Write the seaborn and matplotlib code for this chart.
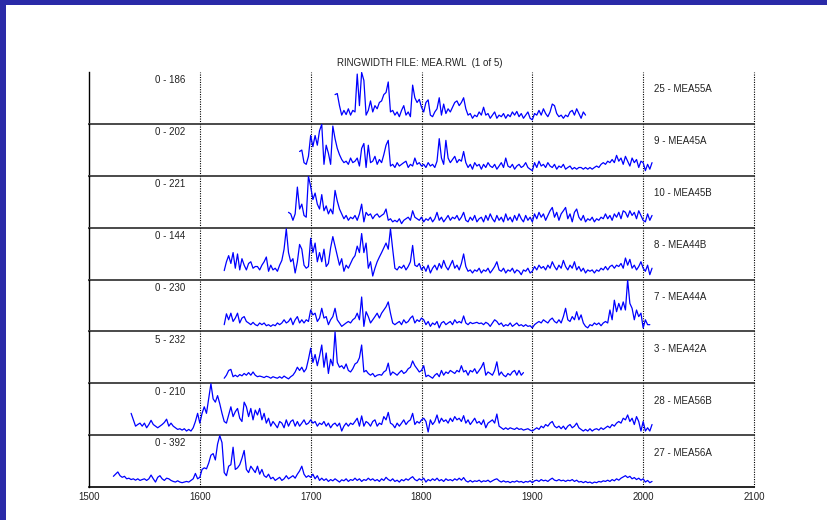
import matplotlib
matplotlib.use("Agg")
import matplotlib.pyplot as plt
from matplotlib.patches import Rectangle
import seaborn as sns
import pandas as pd

sns.set_style("white")
plt.rcParams['font.family'] = ['Liberation Sans', 'DejaVu Sans']

title = "RINGWIDTH FILE: MEA.RWL  (1 of 5)"
series_names = ["25 - MEA55A", "9 - MEA45A", "10 - MEA45B", "8 - MEA44B",
                "7 - MEA44A", "3 - MEA42A", "28 - MEA56B", "27 - MEA56A"]
range_labels = ["0 - 186", "0 - 202", "0 - 221", "0 - 144",
                "0 - 230", "5 - 232", "0 - 210", "0 - 392"]
y_lo = [0, 0, 0, 0, 0, 5, 0, 0]
y_hi = [186, 202, 221, 144, 230, 232, 210, 392]
start_years = [1722, 1690, 1680, 1622, 1622, 1622, 1538, 1522]
year_step = 2
x_ticks = [1500, 1600, 1700, 1800, 1900, 2000, 2100]

mea55a = [102,106,60,24,42,26,48,24,42,36,
          180,60,186,156,24,42,78,36,60,48,
          72,78,102,110,150,36,42,24,36,18,
          42,60,24,36,18,138,90,72,84,54,
          36,72,82,24,18,36,48,90,24,66,
          30,48,36,54,72,78,60,72,90,48,
          24,30,12,24,18,36,24,54,24,30,
          12,24,36,12,24,18,30,12,26,18,
          36,24,38,18,30,12,24,36,12,6,
          30,24,42,24,48,30,18,36,66,60,
          30,18,24,12,24,18,36,42,24,48,
          30,12,36,24]
mea45a = [90,96,44,37,70,156,110,156,116,176,
          202,37,116,83,37,195,143,103,77,57,
          44,50,37,63,44,50,63,30,103,123,
          24,116,44,50,70,37,57,44,77,116,
          136,30,37,24,44,30,37,44,50,24,
          37,30,63,37,44,30,37,24,44,30,
          37,24,50,143,63,37,136,63,44,57,
          70,44,57,50,90,44,24,37,17,44,
          30,37,17,37,24,44,30,24,37,17,
          30,44,24,63,30,24,37,17,30,37,
          24,30,44,24,17,11,44,24,50,30,
          37,24,44,30,24,37,17,30,24,37,
          17,24,30,17,24,17,24,24,17,24,
          17,24,17,24,30,24,37,44,37,50,
          44,57,44,74,50,63,37,70,50,30,
          63,44,57,24,50,44,11,37,17,44]
mea45b = [58,51,22,51,172,73,95,44,36,221,
          174,116,145,95,73,138,65,87,51,73,
          51,157,109,73,51,29,44,22,36,29,
          44,22,51,95,15,58,44,51,29,44,
          51,36,44,51,73,22,29,15,22,15,
          29,7,22,29,36,22,65,36,29,22,
          36,15,29,22,36,15,29,58,22,36,
          15,29,44,22,36,29,44,22,36,58,
          22,15,36,22,44,15,29,36,15,44,
          22,51,29,15,44,22,36,15,51,22,
          36,15,44,22,51,29,15,44,22,36,
          15,51,29,58,36,51,22,44,65,80,
          36,58,22,51,65,80,29,51,15,58,
          73,36,22,44,15,29,22,36,15,29,
          22,36,29,51,29,44,22,51,36,58,
          29,65,58,36,65,44,58,29,65,44,
          22,15,51,22,44]
mea44b = [19,45,63,40,72,26,68,21,54,35,
          21,40,45,26,31,31,21,35,45,59,
          17,35,21,26,17,35,49,82,142,72,
          45,54,12,45,96,82,35,26,31,114,
          72,100,45,72,45,82,31,40,86,119,
          91,63,35,54,17,35,26,40,54,63,
          91,72,128,72,100,26,45,3,26,45,
          59,72,86,100,82,142,82,26,21,31,
          26,35,21,31,45,93,35,31,40,21,
          31,17,35,12,26,35,21,40,26,49,
          31,21,35,49,26,35,21,40,68,31,
          17,21,12,21,17,26,12,21,17,26,
          12,21,31,45,21,17,26,12,21,17,
          26,12,21,17,7,21,17,26,12,17,
          31,21,35,26,31,21,35,26,45,31,
          21,35,26,49,31,21,35,26,45,21,
          31,17,26,12,21,17,21,12,21,17,
          26,21,31,21,31,35,26,35,31,40,
          26,56,35,52,26,35,21,31,45,26,
          17,35,7,26]
mea44a = [20,71,43,74,35,51,74,28,51,58,
          35,28,20,31,20,15,28,20,28,15,
          20,12,20,15,28,20,28,43,28,35,
          51,20,43,58,28,43,28,43,35,89,
          66,74,35,51,97,51,58,20,43,58,
          97,43,28,12,20,28,35,28,43,51,
          74,43,150,12,81,58,28,43,58,74,
          51,74,89,104,127,74,28,20,28,35,
          20,43,28,35,51,61,28,43,35,51,
          43,20,35,12,28,20,35,5,28,35,
          20,28,35,20,43,28,35,28,61,28,
          20,31,25,28,31,25,28,20,31,25,
          12,28,43,35,20,28,12,20,15,28,
          12,20,28,15,20,12,20,12,15,5,
          20,28,35,28,43,35,28,43,51,35,
          28,43,28,58,97,43,35,58,43,81,
          43,66,28,12,5,20,15,28,20,28,
          15,28,35,28,89,43,135,81,120,89,
          127,89,230,120,97,43,89,58,74,5,
          43,20,20]
mea42a = [17,31,53,58,24,31,24,34,28,39,
          31,43,31,46,31,24,27,24,20,26,
          23,17,24,20,17,24,17,27,20,14,
          24,31,46,68,53,68,46,61,105,156,
          90,127,75,119,171,68,134,39,105,75,
          232,90,68,75,61,83,53,46,61,83,
          90,112,171,46,53,39,31,39,24,31,
          34,31,46,53,87,31,46,39,31,43,
          53,39,46,61,68,97,75,61,46,53,
          75,24,31,24,17,31,39,24,53,31,
          46,39,53,46,39,53,46,75,46,53,
          31,53,46,61,39,53,68,90,31,46,
          39,31,53,93,31,46,31,24,39,31,
          46,53,31,53,31,43]
mea56b = [83,55,28,35,41,28,41,21,35,53,
          35,28,21,28,35,44,58,28,41,28,
          21,14,17,11,17,7,14,7,21,48,
          83,41,83,111,83,145,210,145,131,159,
          124,83,48,41,76,111,69,90,104,62,
          48,131,111,69,104,55,97,76,104,55,
          83,41,62,28,48,35,21,48,41,21,
          55,28,48,55,28,48,28,41,55,35,
          41,55,41,48,28,41,35,48,28,41,
          21,35,41,28,41,7,28,41,28,41,
          35,48,62,28,72,28,48,41,28,48,
          55,28,41,35,69,55,87,41,35,21,
          41,28,41,55,35,48,55,83,35,48,
          41,55,62,48,3,55,35,48,76,41,
          62,48,55,41,62,48,69,55,62,48,
          73,41,55,35,48,62,41,48,35,55,
          21,41,48,55,41,80,28,21,14,21,
          14,21,17,14,21,14,17,11,14,17,
          11,7,14,21,14,28,21,35,28,41,
          48,28,21,28,17,28,14,28,35,21,
          28,41,21,14,7,14,7,17,7,14,
          17,11,21,14,21,28,21,35,28,41,
          48,41,62,55,76,48,62,35,69,48,
          7,48,7,21,7,35]
mea56a = [66,83,101,71,58,66,46,51,40,46,
          35,46,33,40,46,33,46,76,46,20,
          58,71,46,33,51,46,33,25,20,30,
          20,15,20,25,20,33,46,89,46,58,
          121,134,126,172,235,248,197,324,392,336,
          96,71,147,159,299,121,134,159,210,273,
          121,96,147,121,96,147,83,121,71,58,
          83,46,58,33,46,58,33,46,71,46,
          58,71,51,83,109,147,83,58,71,58,
          83,46,71,33,51,33,46,25,40,30,
          46,33,20,38,30,46,25,40,33,51,
          33,46,25,40,33,51,35,46,30,40,
          25,46,33,58,40,30,46,25,35,20,
          40,30,46,35,51,63,40,30,46,35,
          51,20,40,30,46,33,51,30,40,25,
          46,33,40,30,46,35,51,35,56,30,
          20,33,20,30,25,35,20,30,25,35,
          20,30,40,46,30,20,30,20,25,15,
          25,20,30,20,25,15,25,20,30,15,
          30,35,25,40,30,35,25,40,51,35,
          30,40,30,35,25,35,30,40,25,35,
          20,25,15,25,15,20,10,20,15,25,
          20,30,25,35,25,40,30,46,35,51,
          61,71,56,66,46,56,40,51,35,46,
          20,33,15,25]

series_values = [mea55a, mea45a, mea45b, mea44b, mea44a, mea42a, mea56b, mea56a]

W, H = 827, 520
fig = plt.figure(figsize=(W / 100, H / 100), dpi=100)
fig.patch.set_facecolor("white")

left = 89 / W
right = 754 / W
top = 1 - 72 / H
bottom = 1 - 487 / H
n = len(series_names)
ph = (top - bottom) / n

line_color = "#0000ff"

for i in range(n):
    ax = fig.add_axes([left, top - (i + 1) * ph, right - left, ph])
    vals = series_values[i]
    years = list(range(start_years[i], start_years[i] + year_step * len(vals), year_step))
    df = pd.DataFrame({"year": years, "width": vals})
    sns.lineplot(data=df, x="year", y="width", ax=ax, color=line_color,
                 linewidth=0.9, estimator=None, sort=False, zorder=3)
    ax.set_xlim(1500, 2100)
    lo, hi = y_lo[i], y_hi[i]
    r = hi - lo
    ax.set_ylim(lo - 0.05 * r, hi + 0.01 * r)
    ax.set_xticks(x_ticks)
    ax.set_yticks([lo])
    ax.set_yticklabels([])
    ax.set_xlabel("")
    ax.set_ylabel("")
    ax.grid(False)
    for xv in x_ticks[1:]:
        ax.axvline(xv, color="black", linestyle=(0, (1, 1.2)), linewidth=0.8,
                   zorder=1, clip_on=False)
    ax.tick_params(axis="both", direction="in", length=3, width=0.8, colors="black",
                   labelsize=7, pad=3.5)
    ax.tick_params(axis="x", labelcolor="#222222")
    ax.spines["top"].set_visible(False)
    ax.spines["right"].set_visible(False)
    ax.spines["left"].set_color("black")
    ax.spines["left"].set_linewidth(1.0)
    if i < n - 1:
        ax.set_xticklabels([])
        ax.spines["bottom"].set_color("#4a4a4a")
        ax.spines["bottom"].set_linewidth(1.4)
    else:
        ax.set_xticklabels([str(t) for t in x_ticks])
        ax.spines["bottom"].set_color("black")
        ax.spines["bottom"].set_linewidth(1.2)
    ax.set_facecolor("none")
    tr = ax.get_xaxis_transform()
    ax.text(1587, 0.84, range_labels[i], transform=tr, ha="right", va="center",
            fontsize=7, color="#222222")
    ax.text(2010, 0.665, series_names[i], transform=tr, ha="left", va="center",
            fontsize=7, color="#222222")

fig.text(420 / W, 1 - 62.5 / H, title, ha="center", va="center", fontsize=7, color="#222222")

frame_color = "#2a2aa8"
fig.patches.append(Rectangle((0, 1 - 5 / H), 1, 5 / H, transform=fig.transFigure,
                             facecolor=frame_color, edgecolor="none", zorder=10))
fig.patches.append(Rectangle((0, 0), 6 / W, 1, transform=fig.transFigure,
                             facecolor=frame_color, edgecolor="none", zorder=10))

fig.savefig("out.png", dpi=100)
